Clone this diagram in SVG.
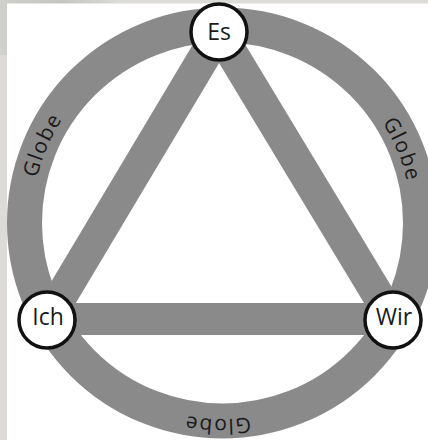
<svg xmlns="http://www.w3.org/2000/svg" width="428" height="440" viewBox="0 0 428 440">
  <style>
    .ring { fill: none; stroke: #8a8a8a; stroke-width: 35; }
    .bar { stroke: #8a8a8a; stroke-width: 32; stroke-linecap: butt; }
    .node circle { fill: #ffffff; stroke: #111111; stroke-width: 3.5; }
    .node text { font-family: "Open Sans", "Liberation Sans", sans-serif; font-size: 23px; fill: #1a1a1a; text-anchor: middle; }
    .globe { font-family: "Open Sans", "Liberation Sans", sans-serif; font-size: 21px; fill: #1a1a1a; letter-spacing: 1.5px; }
  </style>
  <defs>
    <linearGradient id="blur" x1="0" y1="0" x2="1" y2="0">
      <stop offset="0" stop-color="#c8c8c6"/>
      <stop offset="0.5" stop-color="#b4b4b2"/>
      <stop offset="1" stop-color="#dcdbd6"/>
    </linearGradient>
    <path id="arcIn" d="M 31.5 223 A 191 191 0 1 1 413.5 223 A 191 191 0 1 1 31.5 223"/>
    <path id="arcR" d="M 33.5 223 A 189 189 0 1 1 411.5 223 A 189 189 0 1 1 33.5 223"/>
    <path id="arcMid" d="M 26.5 223 A 196 196 0 1 1 418.5 223 A 196 196 0 1 1 26.5 223"/>
  </defs>
  <rect x="0" y="0" width="428" height="440" fill="#dcdbd6"/>
  <rect x="0" y="0" width="120" height="55" fill="url(#blur)" opacity="0.6"/>
  <rect x="7" y="3.5" width="421" height="436.5" fill="#ffffff"/>

  <g id="globe-ring">
    <circle class="ring" cx="222.5" cy="223" r="198"/>
    <text class="globe"><textPath href="#arcIn" startOffset="78" text-anchor="middle">Globe</textPath></text>
    <text class="globe"><textPath href="#arcR" startOffset="520" text-anchor="middle">Globe</textPath></text>
    <text class="globe"><textPath href="#arcMid" startOffset="928" text-anchor="middle">Globe</textPath></text>
  </g>

  <g id="connectors">
    <line class="bar" x1="219" y1="32" x2="47" y2="320"/>
    <line class="bar" x1="219" y1="32" x2="393" y2="320"/>
    <line class="bar" x1="47" y1="319" x2="393" y2="319"/>
  </g>

  <g id="node-es" class="node">
    <circle cx="219" cy="32" r="28"/>
    <text x="219" y="40">Es</text>
  </g>
  <g id="node-ich" class="node">
    <circle cx="47" cy="320" r="28"/>
    <text x="48" y="325">Ich</text>
  </g>
  <g id="node-wir" class="node">
    <circle cx="393" cy="320" r="28"/>
    <text x="394" y="325">Wir</text>
  </g>
</svg>
